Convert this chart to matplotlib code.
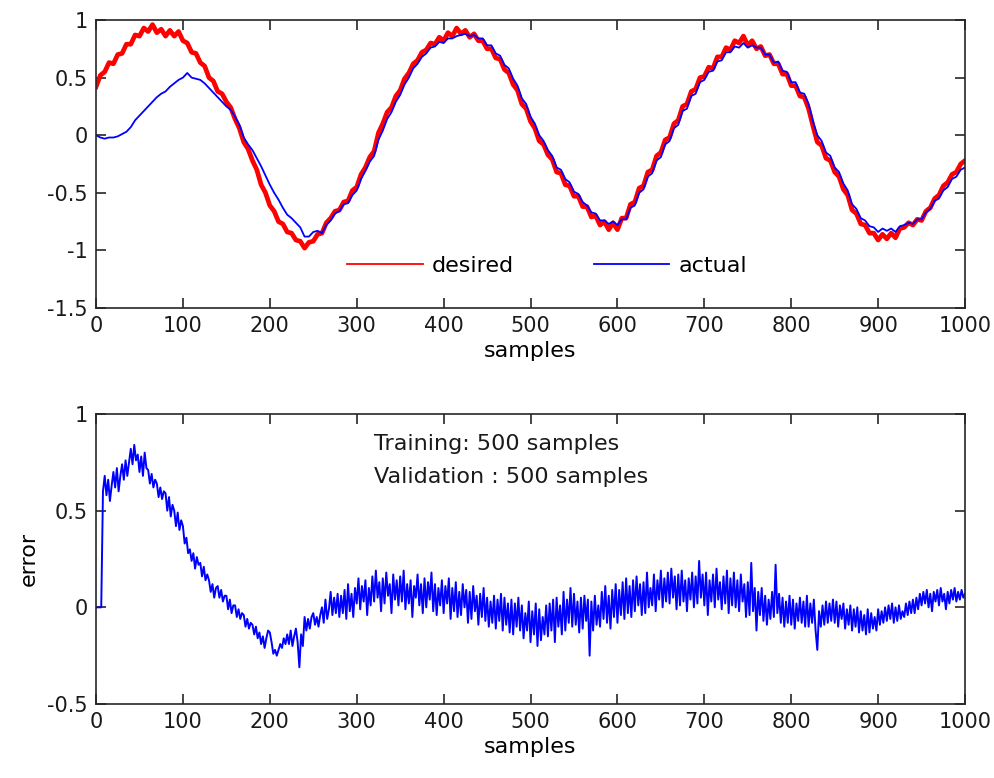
import numpy as np
import matplotlib
matplotlib.use("Agg")
import matplotlib.pyplot as plt

# ---------------- data ----------------
# top panel: every 5 samples
samples = np.arange(0, 1001, 5)

desired = [
    0.42, 0.52, 0.55, 0.63, 0.62, 0.70, 0.71, 0.79, 0.79, 0.87,
    0.86, 0.93, 0.90, 0.96, 0.89, 0.92, 0.86, 0.91, 0.86, 0.90,
    0.82, 0.80, 0.72, 0.71, 0.63, 0.60, 0.50, 0.47, 0.38, 0.36,
    0.29, 0.24, 0.14, 0.06, -0.06, -0.12, -0.22, -0.30, -0.43, -0.50,
    -0.61, -0.66, -0.75, -0.77, -0.84, -0.85, -0.91, -0.92, -0.98, -0.93,
    -0.92, -0.86, -0.85, -0.76, -0.72, -0.66, -0.65, -0.58, -0.57, -0.48,
    -0.45, -0.34, -0.28, -0.19, -0.14, 0.02, 0.10, 0.20, 0.24, 0.34,
    0.39, 0.49, 0.54, 0.62, 0.65, 0.72, 0.74, 0.80, 0.79, 0.85,
    0.82, 0.89, 0.86, 0.93, 0.88, 0.91, 0.85, 0.88, 0.82, 0.82,
    0.75, 0.75, 0.67, 0.66, 0.57, 0.54, 0.44, 0.39, 0.27, 0.23,
    0.12, 0.06, -0.05, -0.08, -0.17, -0.21, -0.32, -0.33, -0.43, -0.44,
    -0.53, -0.53, -0.62, -0.62, -0.71, -0.70, -0.78, -0.75, -0.82, -0.76,
    -0.82, -0.72, -0.72, -0.60, -0.58, -0.46, -0.44, -0.32, -0.30, -0.18,
    -0.15, -0.04, -0.02, 0.10, 0.13, 0.25, 0.27, 0.38, 0.40, 0.50,
    0.51, 0.59, 0.58, 0.68, 0.68, 0.76, 0.74, 0.82, 0.80, 0.86,
    0.78, 0.82, 0.75, 0.77, 0.69, 0.70, 0.62, 0.62, 0.53, 0.53,
    0.43, 0.43, 0.34, 0.33, 0.23, 0.08, -0.06, -0.09, -0.20, -0.22,
    -0.32, -0.36, -0.47, -0.52, -0.65, -0.68, -0.77, -0.78, -0.85, -0.85,
    -0.91, -0.86, -0.90, -0.85, -0.89, -0.81, -0.80, -0.76, -0.78, -0.73,
    -0.74, -0.66, -0.63, -0.55, -0.52, -0.44, -0.41, -0.34, -0.32, -0.25,
    -0.22,
]

actual = [
    0.00, -0.02, -0.03, -0.02, -0.02, -0.01, 0.01, 0.03, 0.07, 0.13,
    0.17, 0.21, 0.25, 0.29, 0.33, 0.36, 0.38, 0.42, 0.45, 0.48,
    0.50, 0.54, 0.50, 0.49, 0.48, 0.45, 0.41, 0.37, 0.33, 0.29,
    0.25, 0.22, 0.16, 0.09, -0.02, -0.08, -0.13, -0.20, -0.27, -0.35,
    -0.43, -0.50, -0.56, -0.63, -0.69, -0.72, -0.76, -0.80, -0.88, -0.88,
    -0.84, -0.83, -0.85, -0.78, -0.74, -0.68, -0.66, -0.60, -0.59, -0.52,
    -0.48, -0.38, -0.31, -0.23, -0.18, -0.04, 0.04, 0.14, 0.20, 0.29,
    0.35, 0.44, 0.50, 0.58, 0.62, 0.68, 0.71, 0.76, 0.77, 0.81,
    0.80, 0.84, 0.84, 0.86, 0.87, 0.88, 0.86, 0.87, 0.84, 0.84,
    0.78, 0.78, 0.71, 0.69, 0.61, 0.58, 0.49, 0.43, 0.32, 0.27,
    0.16, 0.10, 0.00, -0.05, -0.13, -0.18, -0.28, -0.30, -0.38, -0.41,
    -0.49, -0.51, -0.58, -0.61, -0.67, -0.68, -0.74, -0.74, -0.77, -0.75,
    -0.78, -0.73, -0.73, -0.63, -0.61, -0.50, -0.47, -0.36, -0.33, -0.22,
    -0.19, -0.08, -0.05, 0.06, 0.09, 0.21, 0.23, 0.34, 0.36, 0.46,
    0.48, 0.55, 0.56, 0.64, 0.65, 0.72, 0.72, 0.77, 0.76, 0.80,
    0.76, 0.78, 0.76, 0.76, 0.70, 0.70, 0.63, 0.64, 0.56, 0.55,
    0.46, 0.46, 0.37, 0.36, 0.27, 0.12, 0.00, -0.05, -0.15, -0.18,
    -0.28, -0.32, -0.42, -0.48, -0.60, -0.64, -0.72, -0.74, -0.79, -0.80,
    -0.84, -0.81, -0.83, -0.81, -0.84, -0.79, -0.78, -0.76, -0.77, -0.73,
    -0.73, -0.67, -0.64, -0.57, -0.55, -0.48, -0.45, -0.38, -0.36, -0.30,
    -0.28,
]

# bottom panel: every 2 samples (one row = 10 samples)
error_samples = np.arange(0, 1001, 2)

error = [
    0.00, 0.00, 0.00, 0.00, 0.60,        # 0
    0.68, 0.58, 0.66, 0.55, 0.63,        # 10
    0.70, 0.62, 0.72, 0.60, 0.68,        # 20
    0.74, 0.66, 0.76, 0.68, 0.75,        # 30
    0.82, 0.74, 0.84, 0.76, 0.79,        # 40
    0.70, 0.78, 0.68, 0.80, 0.72,        # 50
    0.71, 0.64, 0.69, 0.62, 0.66,        # 60
    0.64, 0.57, 0.62, 0.56, 0.60,        # 70
    0.59, 0.50, 0.57, 0.47, 0.53,        # 80
    0.50, 0.42, 0.49, 0.40, 0.45,        # 90
    0.42, 0.33, 0.36, 0.28, 0.30,        # 100
    0.24, 0.28, 0.20, 0.26, 0.22,        # 110
    0.23, 0.16, 0.21, 0.14, 0.17,        # 120
    0.14, 0.08, 0.12, 0.05, 0.10,        # 130
    0.11, 0.05, 0.09, 0.03, 0.06,        # 140
    0.06, -0.01, 0.04, -0.03, 0.01,      # 150
    0.01, -0.05, -0.01, -0.06, -0.03,    # 160
    -0.04, -0.10, -0.06, -0.11, -0.08,   # 170
    -0.09, -0.14, -0.10, -0.16, -0.13,   # 180
    -0.19, -0.15, -0.21, -0.16, -0.12,   # 190
    -0.13, -0.18, -0.24, -0.22, -0.25,   # 200
    -0.22, -0.19, -0.21, -0.16, -0.19,   # 210
    -0.14, -0.19, -0.12, -0.20, -0.15,   # 220
    -0.11, -0.18, -0.31, -0.14, -0.20,   # 230
    -0.05, -0.12, -0.06, -0.11, -0.05,   # 240
    -0.03, -0.09, -0.05, -0.10, -0.04,   # 250
    0.00, -0.08, 0.04, -0.06, -0.01,     # 260
    0.08, -0.04, 0.05, -0.03, 0.07,      # 270
    -0.05, 0.06, -0.03, 0.09, -0.06,     # 280
    0.12, -0.02, 0.07, -0.05, 0.10,      # 290
    0.02, 0.15, -0.01, 0.11, 0.03,       # 300
    0.14, -0.04, 0.10, 0.01, 0.16,       # 310
    0.03, 0.19, 0.05, 0.13, -0.02,       # 320
    0.15, 0.02, 0.18, 0.06, 0.12,        # 330
    -0.03, 0.17, 0.04, 0.14, 0.01,       # 340
    0.16, 0.03, 0.19, -0.01, 0.12,       # 350
    0.02, 0.14, -0.05, 0.11, 0.05,       # 360
    0.17, 0.01, 0.12, -0.03, 0.15,       # 370
    0.00, 0.13, 0.04, 0.18, -0.02,       # 380
    0.12, -0.04, 0.10, 0.01, 0.14,       # 390
    -0.03, 0.11, 0.02, 0.15, -0.06,      # 400
    0.10, -0.02, 0.13, -0.05, 0.08,      # 410
    -0.04, 0.12, 0.00, 0.09, -0.08,      # 420
    0.08, -0.06, 0.11, -0.02, 0.06,      # 430
    -0.09, 0.07, -0.05, 0.10, -0.07,     # 440
    0.05, -0.10, 0.03, -0.08, 0.06,      # 450
    -0.11, 0.04, -0.07, 0.07, -0.12,     # 460
    0.05, -0.09, 0.02, -0.13, 0.04,      # 470
    -0.14, 0.02, -0.10, 0.05, -0.12,     # 480
    0.01, -0.16, -0.03, -0.12, 0.03,     # 490
    -0.18, -0.02, -0.14, 0.02, -0.20,    # 500
    -0.01, -0.17, -0.05, -0.14, 0.01,    # 510
    -0.15, 0.02, -0.12, 0.04, -0.18,     # 520
    0.05, -0.10, 0.01, -0.14, 0.08,      # 530
    -0.12, 0.04, -0.08, 0.10, -0.10,     # 540
    0.07, -0.09, 0.03, -0.13, 0.05,      # 550
    -0.11, 0.06, -0.07, 0.04, -0.25,     # 560
    0.03, -0.12, 0.06, -0.09, 0.01,      # 570
    -0.10, 0.08, -0.06, 0.11, -0.08,     # 580
    0.06, -0.11, 0.09, -0.05, 0.12,      # 590
    -0.08, 0.09, -0.04, 0.13, -0.06,     # 600
    0.15, -0.03, 0.11, -0.05, 0.14,      # 610
    -0.02, 0.16, 0.01, 0.12, -0.04,      # 620
    0.13, -0.03, 0.18, 0.00, 0.10,       # 630
    0.01, 0.17, -0.02, 0.14, 0.04,       # 640
    0.19, 0.00, 0.15, 0.03, 0.18,        # 650
    0.02, 0.20, 0.05, 0.16, -0.01,       # 660
    0.17, 0.01, 0.19, 0.03, 0.14,        # 670
    -0.02, 0.15, 0.04, 0.18, 0.00,       # 680
    0.16, 0.02, 0.24, 0.05, 0.17,        # 690
    0.01, 0.18, -0.04, 0.14, 0.03,       # 700
    0.17, 0.00, 0.20, 0.04, 0.13,        # 710
    -0.01, 0.16, 0.02, 0.19, -0.03,      # 720
    0.15, 0.01, 0.18, 0.00, 0.14,        # 730
    -0.02, 0.17, 0.03, 0.12, -0.05,      # 740
    0.13, -0.04, 0.23, -0.02, 0.10,      # 750
    -0.12, 0.08, -0.04, 0.10, -0.07,     # 760
    0.06, -0.09, 0.04, -0.06, 0.08,      # 770
    -0.05, 0.22, -0.03, 0.07, -0.08,     # 780
    0.05, -0.10, 0.03, -0.08, 0.06,      # 790
    -0.09, 0.04, -0.11, 0.02, -0.07,     # 800
    0.05, -0.08, 0.03, -0.10, 0.06,      # 810
    -0.10, 0.02, -0.08, 0.04, -0.12,     # 820
    -0.22, -0.02, -0.10, 0.01, -0.09,    # 830
    0.03, -0.08, 0.02, -0.07, 0.04,      # 840
    -0.08, 0.03, -0.10, 0.01, -0.06,     # 850
    0.02, -0.11, -0.01, -0.09, 0.01,     # 860
    -0.12, -0.01, -0.10, 0.00, -0.13,    # 870
    -0.02, -0.12, -0.04, -0.14, -0.01,   # 880
    -0.13, -0.03, -0.11, -0.05, -0.12,   # 890
    -0.01, -0.09, -0.02, -0.08, 0.00,    # 900
    -0.07, 0.01, -0.06, 0.02, -0.08,     # 910
    0.00, -0.07, 0.01, -0.06, -0.02,     # 920
    -0.05, 0.02, -0.04, 0.03, -0.03,     # 930
    0.04, -0.03, 0.05, -0.01, 0.07,      # 940
    0.01, 0.08, 0.02, 0.09, 0.00,        # 950
    0.07, -0.02, 0.08, 0.03, 0.09,       # 960
    0.01, 0.10, 0.03, 0.07, -0.01,       # 970
    0.08, 0.02, 0.09, 0.04, 0.10,        # 980
    0.03, 0.08, 0.04, 0.09, 0.05,        # 990
    0.07,                                # 1000
]

xticks = [0, 100, 200, 300, 400, 500, 600, 700, 800, 900, 1000]
yticks_top = [-1.5, -1, -0.5, 0, 0.5, 1]
yticks_bottom = [-0.5, 0, 0.5, 1]

# ---------------- figure ----------------
FS = 15
FS_TEXT = 16
plt.rcParams['font.family'] = ['DejaVu Sans']

fig = plt.figure(figsize=(9.95, 7.78), dpi=100)
ax1 = fig.add_axes([0.0965, 0.6041, 0.8734, 0.3702])
ax2 = fig.add_axes([0.0965, 0.0951, 0.8734, 0.3728])

def style(ax):
    for sp in ax.spines.values():
        sp.set_color('#262626')
        sp.set_linewidth(1.2)
    ax.tick_params(direction='in', length=7, width=1.2, colors='#262626',
                   top=True, right=True, labelsize=FS, pad=6)
    for lab in ax.get_xticklabels() + ax.get_yticklabels():
        lab.set_color('#1a1a1a')

ax1.plot(samples, desired, color='#ff0000', lw=3.4, label='desired')
ax1.plot(samples, actual, color='#0000ff', lw=1.3, label='actual')
ax1.set_xlim(0, 1000)
ax1.set_ylim(-1.5, 1)
ax1.set_xticks(xticks)
ax1.set_yticks(yticks_top)
ax1.set_yticklabels(['-1.5', '-1', '-0.5', '0', '0.5', '1'])
ax1.set_xlabel('samples', fontsize=FS_TEXT, labelpad=3)
style(ax1)
leg = ax1.legend(loc='center', bbox_to_anchor=(0.519, 0.146), ncol=2,
                 frameon=False, fontsize=FS_TEXT, handlelength=3.4,
                 handletextpad=0.4, columnspacing=3.6)
for line in leg.get_lines():
    line.set_linewidth(1.3)

ax2.plot(error_samples, error, color='#0000ff', lw=1.4)
ax2.set_xlim(0, 1000)
ax2.set_ylim(-0.5, 1)
ax2.set_xticks(xticks)
ax2.set_yticks(yticks_bottom)
ax2.set_yticklabels(['-0.5', '0', '0.5', '1'])
ax2.set_xlabel('samples', fontsize=FS_TEXT, labelpad=3)
ax2.set_ylabel('error', fontsize=FS_TEXT, labelpad=6)
ax2.text(320, 0.895, 'Training: 500 samples\nValidation : 500 samples',
         fontsize=FS_TEXT, va='top', ha='left', linespacing=1.8, color='#1a1a1a')
style(ax2)

fig.savefig('out.png', dpi=100)
